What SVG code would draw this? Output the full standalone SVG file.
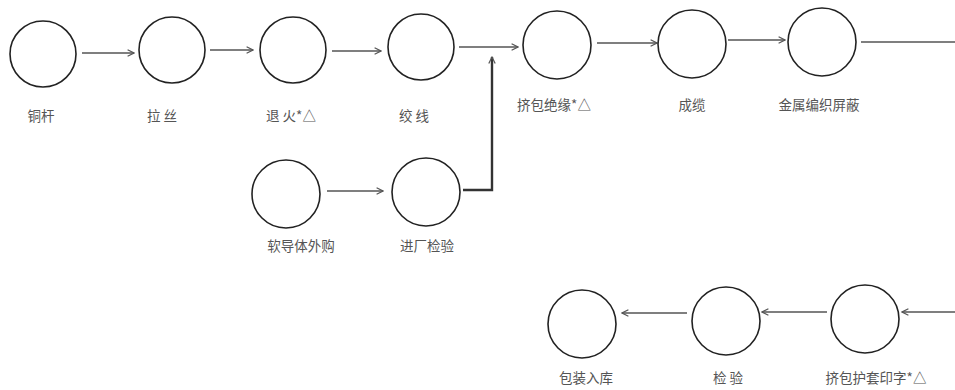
<svg xmlns="http://www.w3.org/2000/svg" width="955" height="390" viewBox="0 0 955 390">
<defs>
<style>
.node circle{fill:#fff;stroke:#222;stroke-width:1.6}
.node text{font-family:"Noto Sans CJK SC","Liberation Serif",serif;font-size:13.5px;fill:#555;text-anchor:middle}
.conn{fill:none;stroke:#555;stroke-width:1.4}
.thick{stroke:#333;stroke-width:2.4}
</style>
<marker id="ah" viewBox="0 0 10 10" refX="9" refY="5" markerWidth="8" markerHeight="8" markerUnits="userSpaceOnUse" orient="auto">
<path d="M1,1 L9,5 L1,9" fill="none" stroke="#555" stroke-width="1.5"/>
</marker>
</defs>
<rect width="955" height="390" fill="#fff"/>
<g id="connectors">
<line class="conn" x1="82" y1="53" x2="134" y2="53" marker-end="url(#ah)"/>
<line class="conn" x1="210" y1="50" x2="253" y2="50" marker-end="url(#ah)"/>
<line class="conn" x1="332" y1="51" x2="381" y2="51" marker-end="url(#ah)"/>
<line class="conn" x1="459" y1="47" x2="518" y2="47" marker-end="url(#ah)"/>
<line class="conn" x1="597" y1="43" x2="657" y2="43" marker-end="url(#ah)"/>
<line class="conn" x1="728" y1="40" x2="785" y2="40" marker-end="url(#ah)"/>
<line class="conn" x1="861" y1="42" x2="955" y2="42"/>
<line class="conn" x1="327" y1="191" x2="383" y2="191" marker-end="url(#ah)"/>
<polyline class="conn thick" points="463,190 492,190 492,57" marker-end="url(#ah)"/>
<line class="conn" x1="955" y1="312" x2="902" y2="312" marker-end="url(#ah)"/>
<line class="conn" x1="827" y1="312" x2="762" y2="312" marker-end="url(#ah)"/>
<line class="conn" x1="687" y1="313" x2="622" y2="313" marker-end="url(#ah)"/>
</g>
<g id="n1" class="node"><circle cx="43" cy="54" r="33"/><text x="41" y="121">铜杆</text></g>
<g id="n2" class="node"><circle cx="172" cy="50" r="33"/><text x="162" y="121">拉 丝</text></g>
<g id="n3" class="node"><circle cx="293" cy="50" r="33"/><text x="291" y="121">退 火*△</text></g>
<g id="n4" class="node"><circle cx="421" cy="47" r="33"/><text x="414" y="121">绞 线</text></g>
<g id="n5" class="node"><circle cx="557" cy="45" r="34"/><text x="554" y="110">挤包绝缘*△</text></g>
<g id="n6" class="node"><circle cx="692" cy="44" r="34"/><text x="692" y="110">成缆</text></g>
<g id="n7" class="node"><circle cx="822" cy="42" r="34"/><text x="819" y="110">金属编织屏蔽</text></g>
<g id="n8" class="node"><circle cx="286" cy="194" r="34"/><text x="301" y="251">软导体外购</text></g>
<g id="n9" class="node"><circle cx="426" cy="192" r="34"/><text x="427" y="251">进厂检验</text></g>
<g id="n10" class="node"><circle cx="865" cy="319" r="34"/><text x="876" y="383">挤包护套印字*△</text></g>
<g id="n11" class="node"><circle cx="726" cy="321" r="34"/><text x="728" y="383">检 验</text></g>
<g id="n12" class="node"><circle cx="582" cy="324" r="34"/><text x="586" y="383">包装入库</text></g>
</svg>
